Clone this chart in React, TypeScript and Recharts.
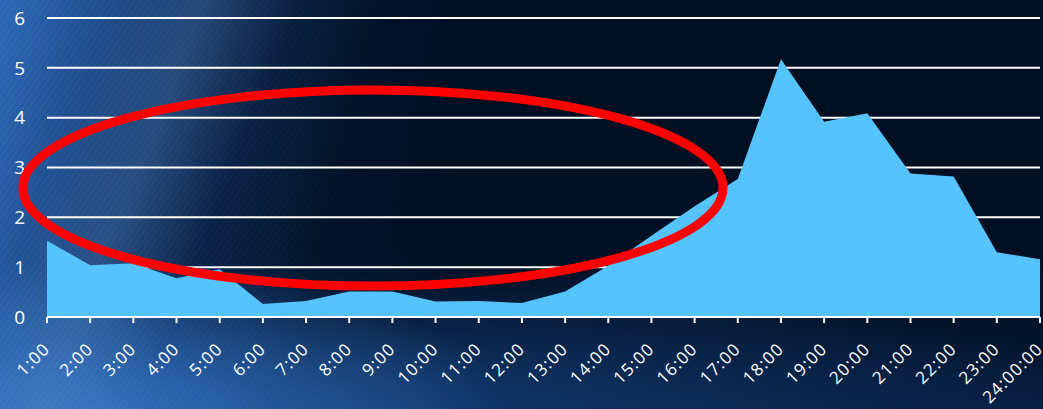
import { AreaChart, Area, XAxis, YAxis, CartesianGrid } from 'recharts'

// hours of the day along the bottom axis
const HOURS = [
  '1:00', '2:00', '3:00', '4:00', '5:00', '6:00', '7:00', '8:00', '9:00', '10:00', '11:00', '12:00',
  '13:00', '14:00', '15:00', '16:00', '17:00', '18:00', '19:00', '20:00', '21:00', '22:00', '23:00', '24:00:00',
]

// values
const VALUES = [
  1.53, 1.04, 1.08, 0.78, 0.96, 0.26, 0.32, 0.51, 0.51, 0.31, 0.32, 0.28,
  0.51, 1.03, 1.63, 2.22, 2.77, 5.17, 3.92, 4.09, 2.88, 2.82, 1.3, 1.16,
]

const Y_TICKS = [0, 1, 2, 3, 4, 5, 6]

const data = HOURS.map((hour, i) => ({ hour, value: VALUES[i] }))

const FONT = '"Open Sans", "Noto Sans", sans-serif'

function HourTick(props: any) {
  const { x, y, payload } = props
  const ax = x + 4
  const ay = y + 25
  return (
    <text
      x={ax}
      y={ay}
      transform={`rotate(-45, ${ax}, ${ay})`}
      textAnchor="end"
      fill="#ffffff"
      fontSize={17}
      letterSpacing={1.2}
      fontFamily={FONT}
    >
      {payload.value}
    </text>
  )
}

const background = [
  'linear-gradient(112deg, rgba(0,0,0,0) 10%, rgba(105,150,200,0.22) 17%, rgba(0,0,0,0) 25%)',
  'radial-gradient(ellipse 420px 160px at 90px 420px, rgba(55,125,210,0.85), rgba(0,0,0,0))',
  'linear-gradient(104deg, rgba(45,105,185,1) 0%, rgba(35,85,155,0.85) 10%, rgba(20,55,110,0.55) 22%, rgba(8,28,60,0.2) 34%, rgba(1,14,32,0) 44%)',
  'radial-gradient(ellipse 800px 150px at 300px 409px, rgba(20,65,125,0.8), rgba(0,0,0,0))',
  'linear-gradient(to top, rgba(10,40,85,0.6) 0%, rgba(6,28,62,0.3) 20%, rgba(1,14,32,0) 40%)',
  '#010f22',
].join(', ')

const streaks =
  'repeating-linear-gradient(125deg, rgba(150,200,245,0.08) 0px, rgba(150,200,245,0.08) 1px, rgba(0,0,0,0) 1px, rgba(0,0,0,0) 5px)'

export default function App() {
  return (
    <div style={{ position: 'fixed', left: 0, top: 0, width: 1043, height: 409, background, overflow: 'hidden' }}>
      <div
        style={{
          position: 'absolute',
          inset: 0,
          background: streaks,
          WebkitMaskImage: 'linear-gradient(to right, black 0%, rgba(0,0,0,0.6) 20%, transparent 45%)',
          maskImage: 'linear-gradient(to right, black 0%, rgba(0,0,0,0.6) 20%, transparent 45%)',
        }}
      />
      <div style={{ position: 'absolute', left: 0, top: 0 }}>
        <AreaChart width={1043} height={409} data={data} margin={{ top: 18, right: 3, left: 0, bottom: 12 }}>
          <CartesianGrid horizontal vertical={false} stroke="#ffffff" strokeWidth={2} />
          <XAxis
            dataKey="hour"
            interval={0}
            height={80}
            axisLine={{ stroke: '#ffffff', strokeWidth: 2 }}
            tickLine={{ stroke: '#ffffff', strokeWidth: 2 }}
            tickSize={6}
            tick={<HourTick />}
          />
          <YAxis
            domain={[0, 6]}
            ticks={Y_TICKS}
            width={47}
            axisLine={false}
            tickLine={false}
            tickSize={0}
            tickMargin={22}
            tick={{ fill: '#ffffff', fontSize: 19, fontFamily: FONT }}
          />
          <Area
            type="linear"
            dataKey="value"
            stroke="none"
            fill="#55c3fe"
            fillOpacity={1}
            isAnimationActive={false}
          />
        </AreaChart>
      </div>
      <svg width={1043} height={409} style={{ position: 'absolute', left: 0, top: 0, pointerEvents: 'none' }}>
        <ellipse cx={373} cy={188} rx={350} ry={98} fill="none" stroke="#ff0000" strokeWidth={9} />
      </svg>
    </div>
  )
}
